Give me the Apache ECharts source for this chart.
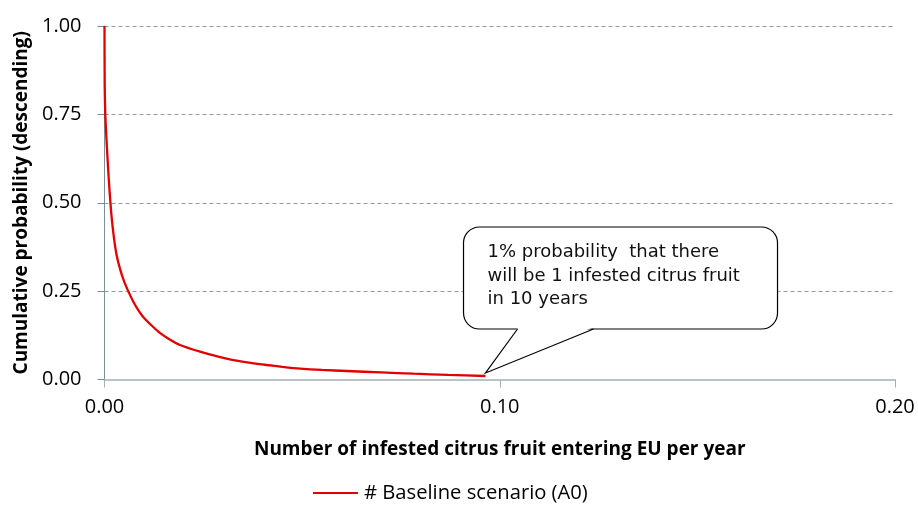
<!DOCTYPE html>
<html>
<head>
<meta charset="utf-8">
<script src="https://cdn.jsdelivr.net/npm/echarts@6/dist/echarts.min.js"></script>
<style>html,body{margin:0;padding:0;background:#fff;}#c{width:918px;height:505px;}</style>
</head>
<body>
<div id="c"></div>
<script>
// Data
const xValues = [0, 0.00005, 0.0002, 0.0005, 0.0009, 0.0013, 0.0018, 0.0024, 0.0031, 0.0040, 0.0050, 0.0060, 0.0073, 0.0085, 0.0098, 0.0120, 0.0141, 0.0165, 0.0191, 0.0242, 0.0290, 0.0326, 0.0370, 0.0411, 0.0450, 0.0495, 0.0550, 0.0613, 0.0700, 0.0782, 0.0870, 0.0964];
const yValues = [1.0, 0.83, 0.75, 0.68, 0.60, 0.53, 0.46, 0.40, 0.35, 0.31, 0.276, 0.250, 0.220, 0.197, 0.177, 0.152, 0.131, 0.113, 0.0975, 0.0786, 0.064, 0.055, 0.047, 0.041, 0.036, 0.031, 0.027, 0.024, 0.020, 0.0164, 0.013, 0.0099];
const seriesName = '# Baseline scenario (A0)';
const xAxisTitle = 'Number of infested citrus fruit entering EU per year';
const yAxisTitle = 'Cumulative probability (descending)';
const calloutText = '1% probability  that there\nwill be 1 infested citrus fruit\nin 10 years';

const chart = echarts.init(document.getElementById('c'), null, {renderer: 'canvas'});
const points = xValues.map((x, i) => [x, yValues[i]]);
const labelFont = '"Open Sans", "Noto Sans", sans-serif';

chart.setOption({
  animation: false,
  backgroundColor: '#ffffff',
  grid: {left: 104.5, right: 23, top: 26, bottom: 125.5, containLabel: false},
  xAxis: {
    type: 'value', min: 0, max: 0.2, interval: 0.1,
    name: xAxisTitle, nameLocation: 'middle', nameGap: 61,
    nameTextStyle: {fontFamily: labelFont, fontWeight: 'bold', fontSize: 19, color: '#000'},
    axisLine: {show: true, lineStyle: {color: '#b8c4c9', width: 2}},
    axisTick: {show: true, length: 8, lineStyle: {color: '#a3afb3', width: 1}},
    axisLabel: {formatter: v => v.toFixed(2), fontFamily: labelFont, fontSize: 20, color: '#000', margin: 18},
    splitLine: {show: false}
  },
  yAxis: {
    type: 'value', min: 0, max: 1, interval: 0.25,
    name: yAxisTitle, nameLocation: 'middle', nameGap: 72, nameRotate: 90,
    nameTextStyle: {fontFamily: labelFont, fontWeight: 'bold', fontSize: 19, color: '#000'},
    axisLine: {show: true, lineStyle: {color: '#7b8f96', width: 1}},
    axisTick: {show: true, length: 7, lineStyle: {color: '#7b8f96', width: 1}},
    axisLabel: {formatter: v => v.toFixed(2), fontFamily: labelFont, fontSize: 20, color: '#000', margin: 23},
    splitLine: {show: true, lineStyle: {color: '#8a9ca2', type: [4, 3], width: 1}}
  },
  legend: {
    bottom: 2, left: 313, padding: 0,
    icon: 'rect', itemWidth: 45, itemHeight: 2, itemGap: 10,
    textStyle: {fontFamily: labelFont, fontSize: 20.2, color: '#000', padding: [0, 0, 0, 1]},
    data: [seriesName]
  },
  series: [{
    name: seriesName, type: 'line', data: points,
    symbol: 'none', smooth: 0.25,
    lineStyle: {color: '#e30000', width: 2.3},
    itemStyle: {color: '#e30000'}
  }]
});

function drawCallout() {
  const end = points[points.length - 1];
  const p = chart.convertToPixel({gridIndex: 0}, end);
  const tx = p[0], ty = p[1] - 3;
  const L = tx - 22, R = tx + 292, T = ty - 146, B = ty - 44;
  const b1 = tx + 32, b2 = tx + 108;
  chart.setOption({
    graphic: [
      {type: 'rect', shape: {x: L, y: T, width: R - L, height: B - T, r: 16},
       style: {fill: '#fff', stroke: '#000', lineWidth: 1.2}, z: 100},
      {type: 'polygon', shape: {points: [[b1 + 0.8, B - 1.5], [tx, ty], [b2 - 0.8, B - 1.5]]},
       style: {fill: '#fff', stroke: null}, z: 101},
      {type: 'polyline', shape: {points: [[b1, B], [tx, ty], [b2, B]]},
       style: {fill: null, stroke: '#000', lineWidth: 1.2}, z: 102},
      {type: 'text', x: L + 24, y: T + 14, z: 103,
       style: {text: calloutText, fontFamily: 'DejaVu Sans', fontSize: 18, fill: '#111', lineHeight: 23.5}}
    ]
  });
}
drawCallout();
</script>
</body>
</html>
